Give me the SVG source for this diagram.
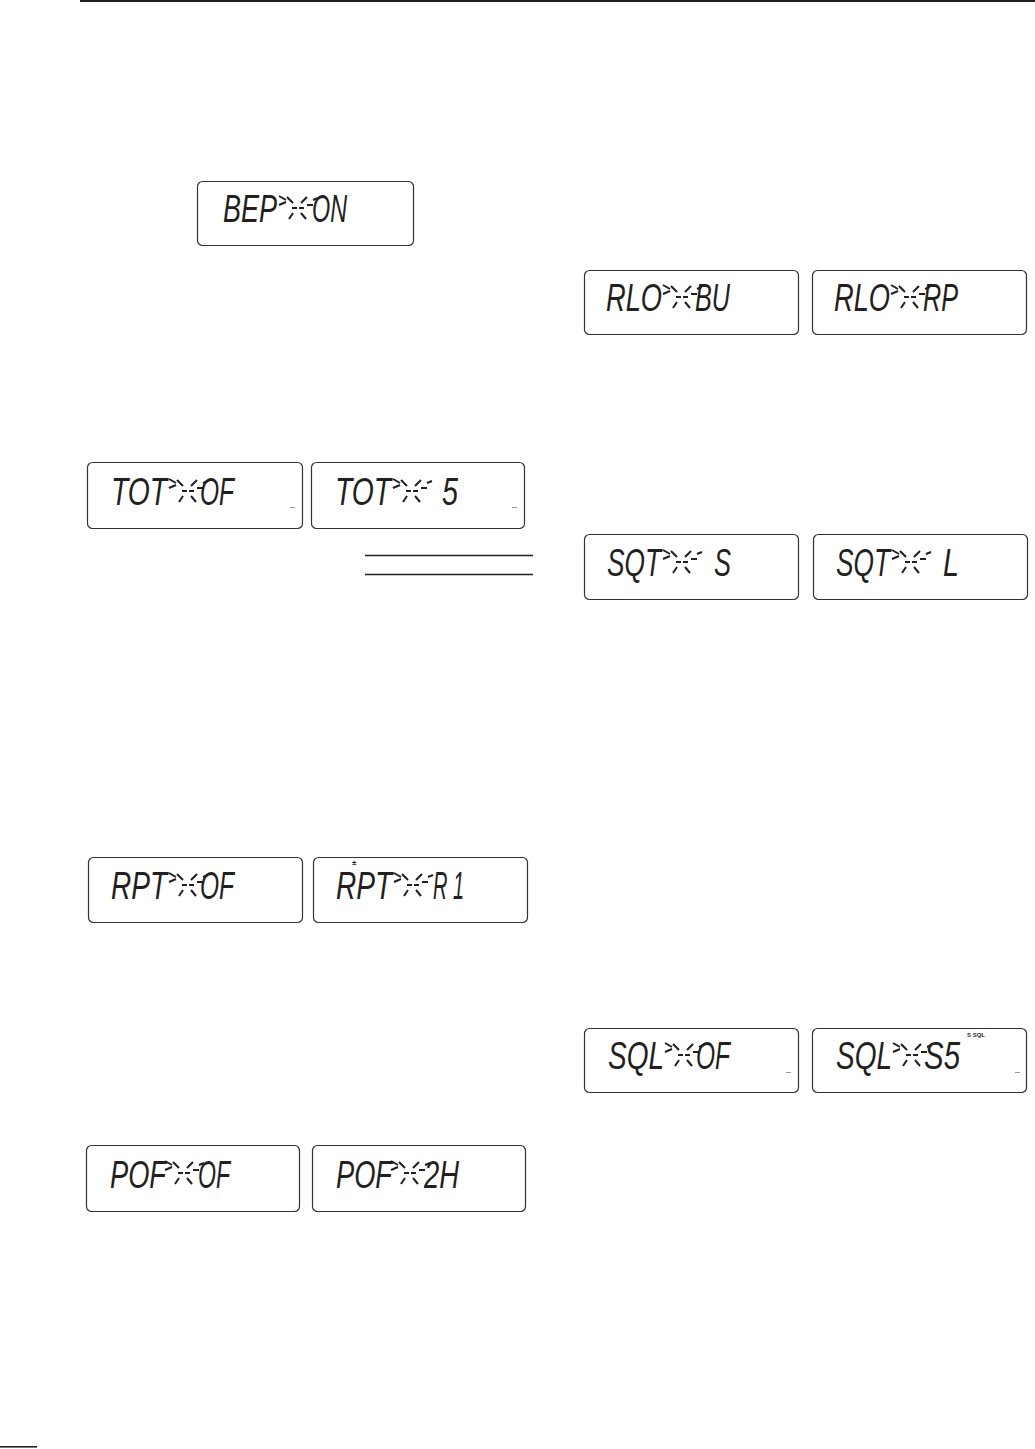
<svg xmlns="http://www.w3.org/2000/svg" xmlns:xlink="http://www.w3.org/1999/xlink" width="1035" height="1449" viewBox="0 0 1035 1449">
<style>
.box{fill:#fff;stroke:#333;stroke-width:1.2}
.lcd{font-family:"Liberation Sans",Arial,sans-serif;font-style:italic;font-size:38px;fill:#231f20}
.seg{fill:none;stroke:#231f20;stroke-width:2}
.mark{stroke:#9a9a9a;stroke-width:1}
.tiny{font-family:"Liberation Sans",Arial,sans-serif;font-weight:bold;fill:#231f20}
.rule{fill:#231f20}
.hl{stroke:#231f20;stroke-width:1.3}
</style>
<defs>
<g id="star" class="seg">
<path d="M-19,-12 L-12,-8 M-19,-3 L-12,-6"/>
<path d="M-11,-11 L-5,-5 M9,-11 L3,-5 M-9,11 L-5,5 M8,11 L3,5"/>
<path d="M-6,0 L-1,0 M1,0 L6,0"/>
<path d="M9,-3 L15,-3 M15,-8 L20,-10"/>
</g>
</defs>
<rect class="rule" x="80" y="0" width="955" height="2"/>
<rect class="rule" x="0" y="1446" width="37" height="1.6"/>
<g id="connectors">
<line class="hl" x1="365" y1="555.5" x2="533" y2="555.5"/>
<line class="hl" x1="365" y1="574.5" x2="533" y2="574.5"/>
</g>
<g id="display-bep-on" transform="translate(197,181)">
<rect class="box" x="0.5" y="0.5" width="216" height="64" rx="5"/>
<text class="lcd" x="26" y="41" textLength="54" lengthAdjust="spacingAndGlyphs">BEP</text>
<use xlink:href="#star" x="101" y="27"/>
<text class="lcd" x="115" y="41" textLength="35" lengthAdjust="spacingAndGlyphs">ON</text>
</g>
<g id="display-tot-of" transform="translate(87,462)">
<rect class="box" x="0.5" y="0.5" width="215" height="66" rx="5"/>
<text class="lcd" x="24" y="43" textLength="56" lengthAdjust="spacingAndGlyphs">TOT</text>
<use xlink:href="#star" x="101" y="29"/>
<text class="lcd" x="113" y="43" textLength="34" lengthAdjust="spacingAndGlyphs">OF</text>
<line class="mark" x1="203" y1="45.5" x2="208" y2="45.5"/>
</g>
<g id="display-tot-5" transform="translate(311,462)">
<rect class="box" x="0.5" y="0.5" width="213" height="66" rx="5"/>
<text class="lcd" x="24" y="43" textLength="56" lengthAdjust="spacingAndGlyphs">TOT</text>
<use xlink:href="#star" x="101" y="29"/>
<text class="lcd" x="131" y="43" textLength="16" lengthAdjust="spacingAndGlyphs">5</text>
<line class="mark" x1="201" y1="45.5" x2="206" y2="45.5"/>
</g>
<g id="display-rlo-bu" transform="translate(584,270)">
<rect class="box" x="0.5" y="0.5" width="214" height="64" rx="5"/>
<text class="lcd" x="22" y="41" textLength="56" lengthAdjust="spacingAndGlyphs">RLO</text>
<use xlink:href="#star" x="98" y="27"/>
<text class="lcd" x="111" y="41" textLength="35" lengthAdjust="spacingAndGlyphs">BU</text>
</g>
<g id="display-rlo-rp" transform="translate(812,270)">
<rect class="box" x="0.5" y="0.5" width="214" height="64" rx="5"/>
<text class="lcd" x="22" y="41" textLength="56" lengthAdjust="spacingAndGlyphs">RLO</text>
<use xlink:href="#star" x="98" y="27"/>
<text class="lcd" x="111" y="41" textLength="35" lengthAdjust="spacingAndGlyphs">RP</text>
</g>
<g id="display-sqt-s" transform="translate(584,534)">
<rect class="box" x="0.5" y="0.5" width="214" height="65" rx="5"/>
<text class="lcd" x="23" y="42" textLength="54" lengthAdjust="spacingAndGlyphs">SQT</text>
<use xlink:href="#star" x="98" y="28"/>
<text class="lcd" x="130" y="42" textLength="17" lengthAdjust="spacingAndGlyphs">S</text>
</g>
<g id="display-sqt-l" transform="translate(813,534)">
<rect class="box" x="0.5" y="0.5" width="214" height="65" rx="5"/>
<text class="lcd" x="23" y="42" textLength="54" lengthAdjust="spacingAndGlyphs">SQT</text>
<use xlink:href="#star" x="98" y="28"/>
<text class="lcd" x="130" y="42" textLength="16" lengthAdjust="spacingAndGlyphs">L</text>
</g>
<g id="display-rpt-of" transform="translate(88,857)">
<rect class="box" x="0.5" y="0.5" width="214" height="65" rx="5"/>
<text class="lcd" x="23" y="42" textLength="56" lengthAdjust="spacingAndGlyphs">RPT</text>
<use xlink:href="#star" x="100" y="28"/>
<text class="lcd" x="112" y="42" textLength="34" lengthAdjust="spacingAndGlyphs">OF</text>
</g>
<g id="display-rpt-r1" transform="translate(313,857)">
<rect class="box" x="0.5" y="0.5" width="214" height="65" rx="5"/>
<text class="tiny" x="39" y="8" font-size="8">±</text>
<text class="lcd" x="23" y="42" textLength="56" lengthAdjust="spacingAndGlyphs">RPT</text>
<use xlink:href="#star" x="100" y="28"/>
<text class="lcd" x="120" y="42" textLength="31" lengthAdjust="spacingAndGlyphs">R 1</text>
</g>
<g id="display-pof-of" transform="translate(86,1145)">
<rect class="box" x="0.5" y="0.5" width="213" height="66" rx="5"/>
<text class="lcd" x="24" y="43" textLength="56" lengthAdjust="spacingAndGlyphs">POF</text>
<use xlink:href="#star" x="98" y="28"/>
<text class="lcd" x="112" y="43" textLength="32" lengthAdjust="spacingAndGlyphs">OF</text>
</g>
<g id="display-pof-2h" transform="translate(312,1145)">
<rect class="box" x="0.5" y="0.5" width="213" height="66" rx="5"/>
<text class="lcd" x="24" y="43" textLength="56" lengthAdjust="spacingAndGlyphs">POF</text>
<use xlink:href="#star" x="98" y="28"/>
<text class="lcd" x="112" y="43" textLength="35" lengthAdjust="spacingAndGlyphs">2H</text>
</g>
<g id="display-sql-of" transform="translate(584,1028)">
<rect class="box" x="0.5" y="0.5" width="214" height="64" rx="5"/>
<text class="lcd" x="24" y="41" textLength="56" lengthAdjust="spacingAndGlyphs">SQL</text>
<use xlink:href="#star" x="100" y="27"/>
<text class="lcd" x="112" y="41" textLength="34" lengthAdjust="spacingAndGlyphs">OF</text>
<line class="mark" x1="202" y1="44.5" x2="207" y2="44.5"/>
</g>
<g id="display-sql-s5" transform="translate(812,1028)">
<rect class="box" x="0.5" y="0.5" width="214" height="64" rx="5"/>
<text class="tiny" x="155" y="9" font-size="6">S SQL</text>
<text class="lcd" x="24" y="41" textLength="56" lengthAdjust="spacingAndGlyphs">SQL</text>
<use xlink:href="#star" x="100" y="27"/>
<text class="lcd" x="112" y="41" textLength="36" lengthAdjust="spacingAndGlyphs">S5</text>
<line class="mark" x1="203" y1="44.5" x2="208" y2="44.5"/>
</g>
</svg>
